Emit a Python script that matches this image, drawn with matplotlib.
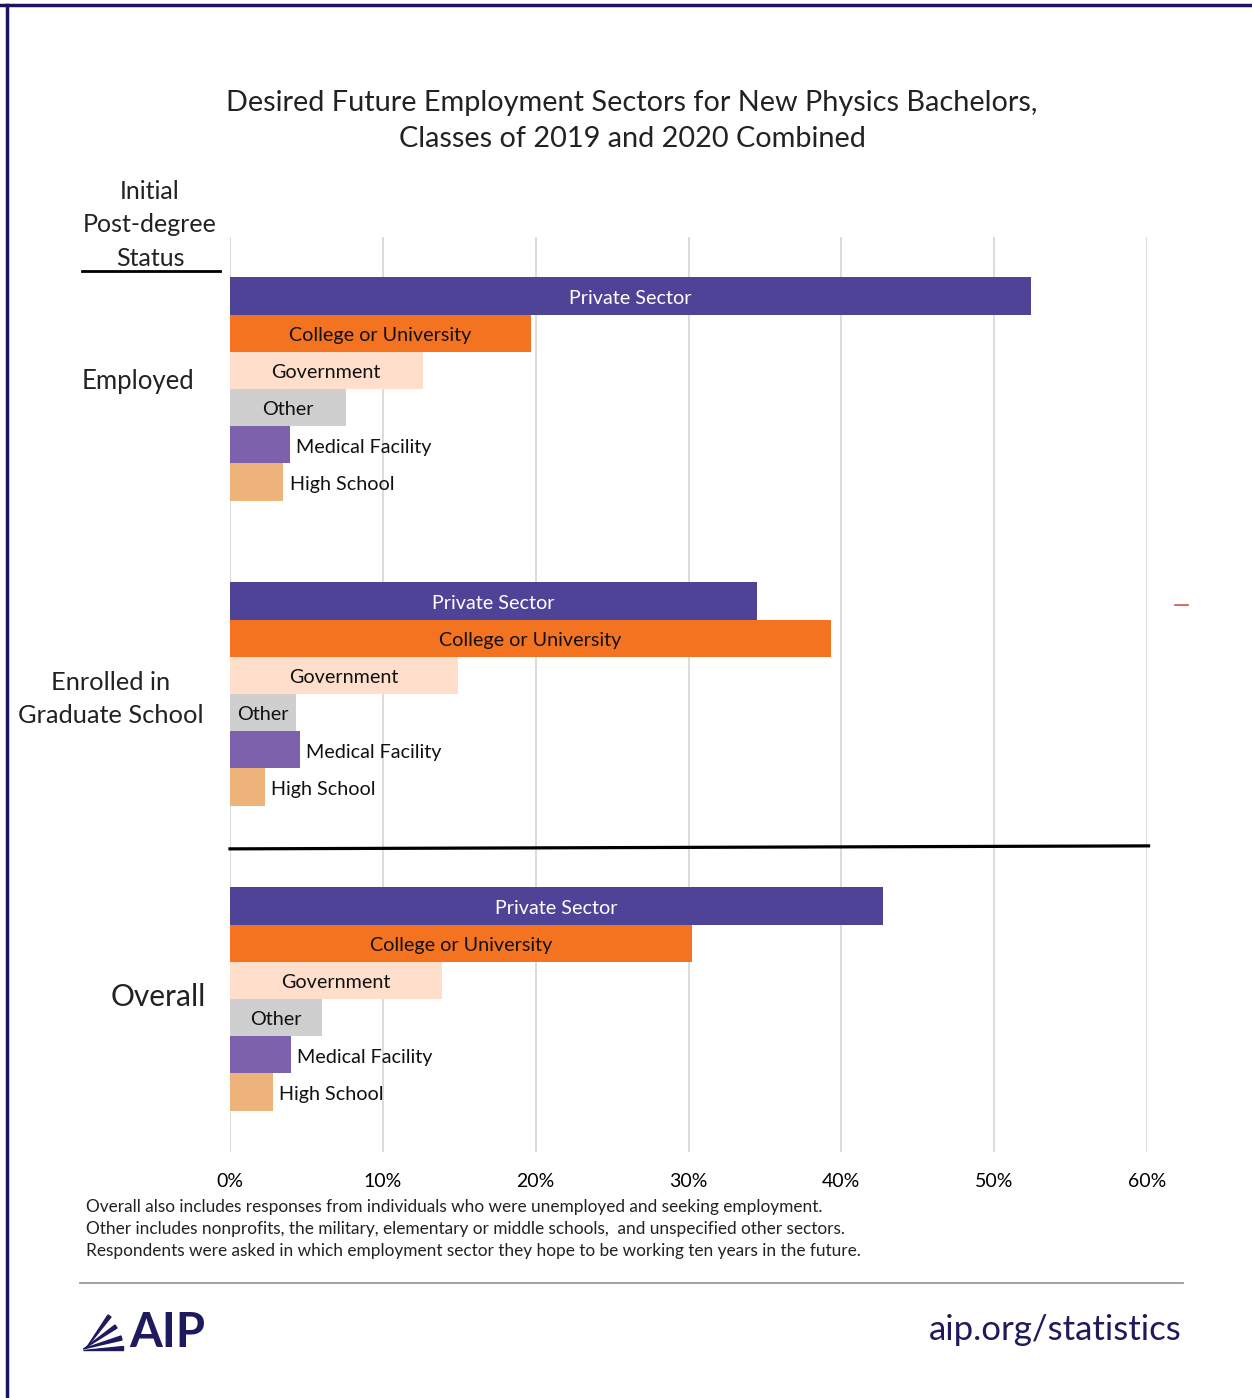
import numpy as np
import matplotlib.pyplot as plt
from matplotlib.lines import Line2D
from matplotlib.patches import Polygon

plt.rcParams['font.family'] = ['Lato', 'DejaVu Sans']

groups = ['Employed', 'Enrolled in\nGraduate School', 'Overall']
sectors = ['Private Sector', 'College or University', 'Government',
           'Other', 'Medical Facility', 'High School']
colors = ['#4F4398', '#F47321', '#FFDFCC', '#D0CFCF', '#7C62AC', '#EEB37A']

employed = [52.4, 19.7, 12.6, 7.6, 3.9, 3.5]
grad_school = [34.5, 39.3, 14.9, 4.3, 4.6, 2.3]
overall = [42.7, 30.2, 13.9, 6.0, 4.0, 2.8]
values = [employed, grad_school, overall]

ticks = [0, 10, 20, 30, 40, 50, 60]
tick_labels = ['0%', '10%', '20%', '30%', '40%', '50%', '60%']

notes = ['Overall also includes responses from individuals who were unemployed and seeking employment.',
         'Other includes nonprofits, the military, elementary or middle schools,  and unspecified other sectors.',
         'Respondents were asked in which employment sector they hope to be working ten years in the future.']

W, H = 1252, 1398
fig = plt.figure(figsize=(W / 100, H / 100), dpi=100)

def fx(px):
    return px / W

def fy(py):
    return 1 - py / H

ax = fig.add_axes([fx(230), fy(1152), fx(1147) - fx(230), fy(237) - fy(1152)])
ax.set_xlim(0, 60)
ax.set_ylim(24.6, 0)

first = 1.586
gap = 8.2
for g, vals in enumerate(values):
    for i, v in enumerate(vals):
        y = first + g * gap + i
        ax.barh(y, v, height=1.0, color=colors[i], edgecolor='none', zorder=2)
        name = sectors[i]
        ty = y + 0.06
        if i == 0:
            ax.text(v / 2, ty, name, color='white', ha='center', va='center', fontsize=14.2, zorder=3)
        elif i <= 3:
            ax.text(v / 2, ty, name, color='#111111', ha='center', va='center', fontsize=14.2, zorder=3)
        else:
            ax.text(v + 0.4, ty, name, color='#111111', ha='left', va='center', fontsize=14.2, zorder=3)

for t in ticks:
    ax.axvline(t, color='#D9D9D9', lw=1.3, zorder=1)

ax.set_xticks(ticks)
ax.set_xticklabels(tick_labels, fontsize=14)
ax.set_yticks([])
ax.tick_params(axis='x', length=0, pad=15)
for s in ax.spines.values():
    s.set_visible(False)

# separator between groups and overall
ax.plot([0, 60.1], [16.45, 16.37], color='black', lw=2.3, clip_on=False, zorder=4)

# group labels
fig.text(fx(138), fy(381), 'Employed', fontsize=18.5, ha='center', va='center', color='#222222')
fig.text(fx(111), fy(699), 'Enrolled in\nGraduate School', fontsize=18.3, ha='center', va='center',
         color='#222222', linespacing=1.5)
fig.text(fx(158), fy(997), 'Overall', fontsize=21.5, ha='center', va='center', color='#222222')
fig.text(fx(150), fy(225), 'Initial\nPost-degree\nStatus', fontsize=18, ha='center', va='center',
         color='#222222', linespacing=1.55)
fig.add_artist(Line2D([fx(82), fx(220)], [fy(271), fy(271)], color='black', lw=2))

# title
fig.text(fx(632), fy(121), 'Desired Future Employment Sectors for New Physics Bachelors,\nClasses of 2019 and 2020 Combined',
         fontsize=20.8, ha='center', va='center', color='#222222', linespacing=1.45)

# footnotes
for k, line in enumerate(notes):
    fig.text(fx(86), fy(1207 + 22 * k), line, fontsize=12.4, ha='left', va='center', color='#222222')

fig.add_artist(Line2D([fx(80), fx(1183)], [fy(1283), fy(1283)], color='#999999', lw=1.3))

# logo and url
navy = '#1E1A5E'
fig.text(fx(129), fy(1333), 'AIP', fontsize=34, fontweight='bold', ha='left', va='center', color=navy)
fan = [[(83, 1350), (123, 1350), (123, 1346)],
       [(83, 1349), (121, 1336), (122, 1340)],
       [(85, 1348), (115, 1325), (117, 1328)],
       [(87, 1347), (108, 1315), (111, 1317)]]
for tri in fan:
    fig.add_artist(Polygon([(fx(a), fy(b)) for a, b in tri], closed=True, color=navy))
fig.text(fx(1182), fy(1330), 'aip.org/statistics', fontsize=25, ha='right', va='center', color=navy)

# frame edges and stray mark
fig.add_artist(Line2D([0, 1], [fy(5), fy(5)], color='#1A1560', lw=2.5))
fig.add_artist(Line2D([fx(7), fx(7)], [0, fy(5)], color='#1A1560', lw=2.5))
fig.add_artist(Line2D([fx(1175), fx(1188)], [fy(605), fy(605)], color='#D05050', lw=1.2))

fig.savefig('out.png', dpi=100)
